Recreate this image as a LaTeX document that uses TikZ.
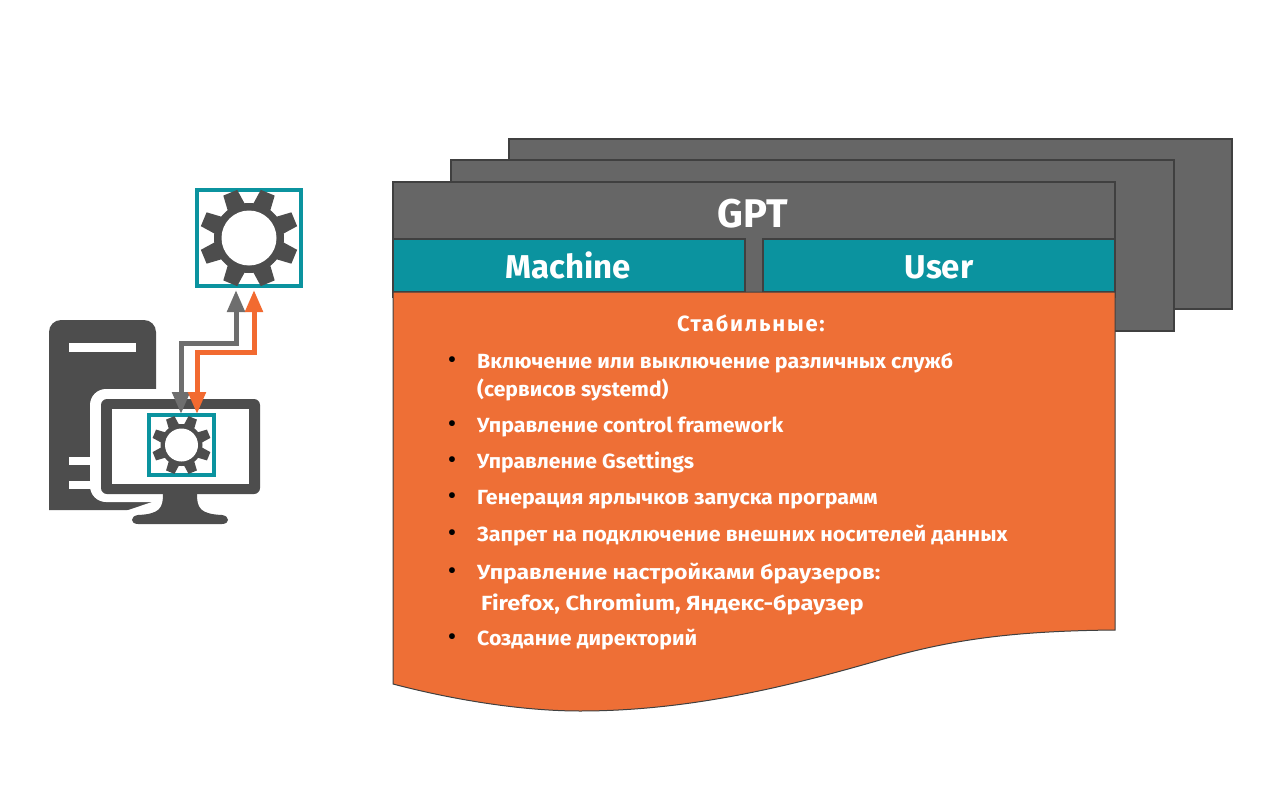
\documentclass[tikz,border=0pt]{standalone}
\usepackage{fontspec}
\setmainfont{Fira Sans}[BoldFont={Fira Sans Bold}]
\usetikzlibrary{arrows.meta,calc}
\definecolor{darkgear}{HTML}{4D4D4D}
\definecolor{cardgray}{HTML}{666666}
\definecolor{cardedge}{HTML}{404040}
\definecolor{tealbox}{HTML}{0B939F}
\definecolor{orangebox}{HTML}{EE6F36}
\definecolor{orangeline}{HTML}{F26A30}
\definecolor{grayline}{HTML}{6E6E6E}
\newcommand{\sx}[2]{\scalebox{#1}[1]{#2}}
\tikzset{
  card/.style={fill=cardgray,draw=cardedge,line width=1.3pt,inner sep=0pt,outer sep=0pt,anchor=north west},
  tabbox/.style={fill=tealbox,draw=cardedge,line width=1.3pt,inner sep=0pt,outer sep=0pt,anchor=north west},
  framebox/.style={fill=white,draw=tealbox,inner sep=0pt,outer sep=0pt},
  itemtext/.style={anchor=base west,inner sep=0pt,text=white,font=\bfseries\fontsize{20.5}{21}\selectfont},
  dotmark/.style={anchor=base,inner sep=0pt,text=black,font=\fontsize{26}{26}\selectfont},
  tablabel/.style={anchor=base,inner sep=0pt,text=white,font=\bfseries\fontsize{33}{33}\selectfont},
  conn/.style={line width=5pt,{Triangle[length=22pt,width=17pt]}-{Triangle[length=22pt,width=17pt]}},
}
\newcommand{\gearshape}[3]{%
  \begin{scope}[shift={(#1,#2)},scale=#3]
    \fill[darkgear] (0,0) circle[radius=35];
    \foreach \a in {22.5,67.5,...,337.5}{
      \fill[darkgear,rotate=\a] (30,-9.5) -- (49,-7.5) -- (49,7.5) -- (30,9.5) -- cycle;
    }
    \fill[white] (0,0) circle[radius=27.5];
  \end{scope}}
\begin{document}
\begin{tikzpicture}[x=1pt,y=-1pt]
\useasboundingbox (0,0) rectangle (1280,792);
\fill[white] (0,0) rectangle (1280,792);

% stacked cards
\node[card,minimum width=723pt,minimum height=170pt] (back) at (509,139) {};
\node[card,minimum width=723pt,minimum height=171pt] (mid) at (451,160) {};
\node[card,minimum width=722pt,minimum height=115pt] (front) at (393,182) {};
\node[anchor=base,inner sep=0pt,text=white,font=\bfseries\fontsize{40}{40}\selectfont] (gpt) at (753,227) {GPT};
\node[tabbox,minimum width=352pt,minimum height=53pt] (machine) at (393,239) {};
\node[tabbox,minimum width=352pt,minimum height=53pt] (user) at (763,239) {};
\node[tablabel] (machinelabel) at (568,278) {Machine};
\node[tablabel] (userlabel) at (939,278) {User};

% orange sheet
\path[fill=orangebox,draw=cardedge,line width=1pt]
  (393,292) -- (1115,292) -- (1115,630)
  .. controls (1010,631) and (950,640) .. (880,660)
  .. controls (790,686) and (690,711) .. (580,711)
  .. controls (520,711) and (450,699) .. (393,684) -- cycle;

\node[anchor=base,inner sep=0pt,text=white,font=\bfseries\fontsize{22}{22}\selectfont\addfontfeature{LetterSpace=8}] (head) at (751,331) {Стабильные:};
\node[itemtext] (i1) at (477,368) {\sx{1.044}{Включение или выключение различных служб}};
\node[itemtext] (i1b) at (477,396) {\sx{1.03}{(сервисов systemd)}};
\node[itemtext] (i2) at (477,432) {\sx{1.041}{Управление control framework}};
\node[itemtext] (i3) at (477,468) {\sx{1.033}{Управление Gsettings}};
\node[itemtext] (i4) at (477,504) {\sx{1.042}{Генерация ярлычков запуска программ}};
\node[itemtext] (i5) at (477,541) {\sx{1.047}{Запрет на подключение внешних носителей данных}};
\node[itemtext] (i6) at (477,579) {\sx{1.12}{Управление настройками браузеров:}};
\node[itemtext] (i6b) at (481,610) {\sx{1.151}{Firefox, Chromium, Яндекс-браузер}};
\node[itemtext] (i7) at (477,645) {\sx{1.04}{Создание директорий}};
\foreach \n/\y in {d1/368,d2/432,d3/468,d4/504,d5/541,d6/579,d7/645}{
  \node[dotmark] (\n) at (452,\y) {•};
}

% tower
\fill[darkgear,rounded corners=12pt] (49,510) -- (49,320) -- (156,320) [sharp corners] -- (156,505) -- (130,510) -- cycle;
\fill[white] (69,343) rectangle (136,352);
\fill[white] (69,457) rectangle (92,465);
\fill[white] (69,481) rectangle (92,489);
% halo of the monitor
\fill[white,rounded corners=16pt] (90,389) rectangle (300,502);
\fill[white] (127,510.5) -- (152,502) -- (170,502) -- (170,530) -- (127,530) -- cycle;
% monitor
\path[fill=darkgear,rounded corners=6pt] (101,399) rectangle (260,494);
\fill[white] (112,409) rectangle (249,484);
\fill[darkgear] (163,494) -- (197,494) .. controls (197,508) and (200,514) .. (222,515)
  .. controls (230,516) and (230,524) .. (222,524) -- (138,524)
  .. controls (130,524) and (130,516) .. (138,515) .. controls (160,514) and (163,508) .. (163,494) -- cycle;

% boxes with gears
\node[framebox,line width=4.5pt,minimum width=104pt,minimum height=96pt] (bigbox) at (249,238) {};
\gearshape{249}{238}{1}
\node[framebox,line width=4pt,minimum width=65pt,minimum height=60pt] (smallbox) at (181.5,445) {};
\gearshape{181.5}{445}{0.6}

% connectors
\coordinate (gtop) at (236,290);
\coordinate (gbot) at (181,414);
\coordinate (otop) at (254,290);
\coordinate (obot) at (197,414);
\draw[grayline,conn] (gtop) -- (236,343) -- (181,343) -- (gbot);
\draw[orangeline,conn] (otop) -- (254,352) -- (197,352) -- (obot);
\end{tikzpicture}
\end{document}
